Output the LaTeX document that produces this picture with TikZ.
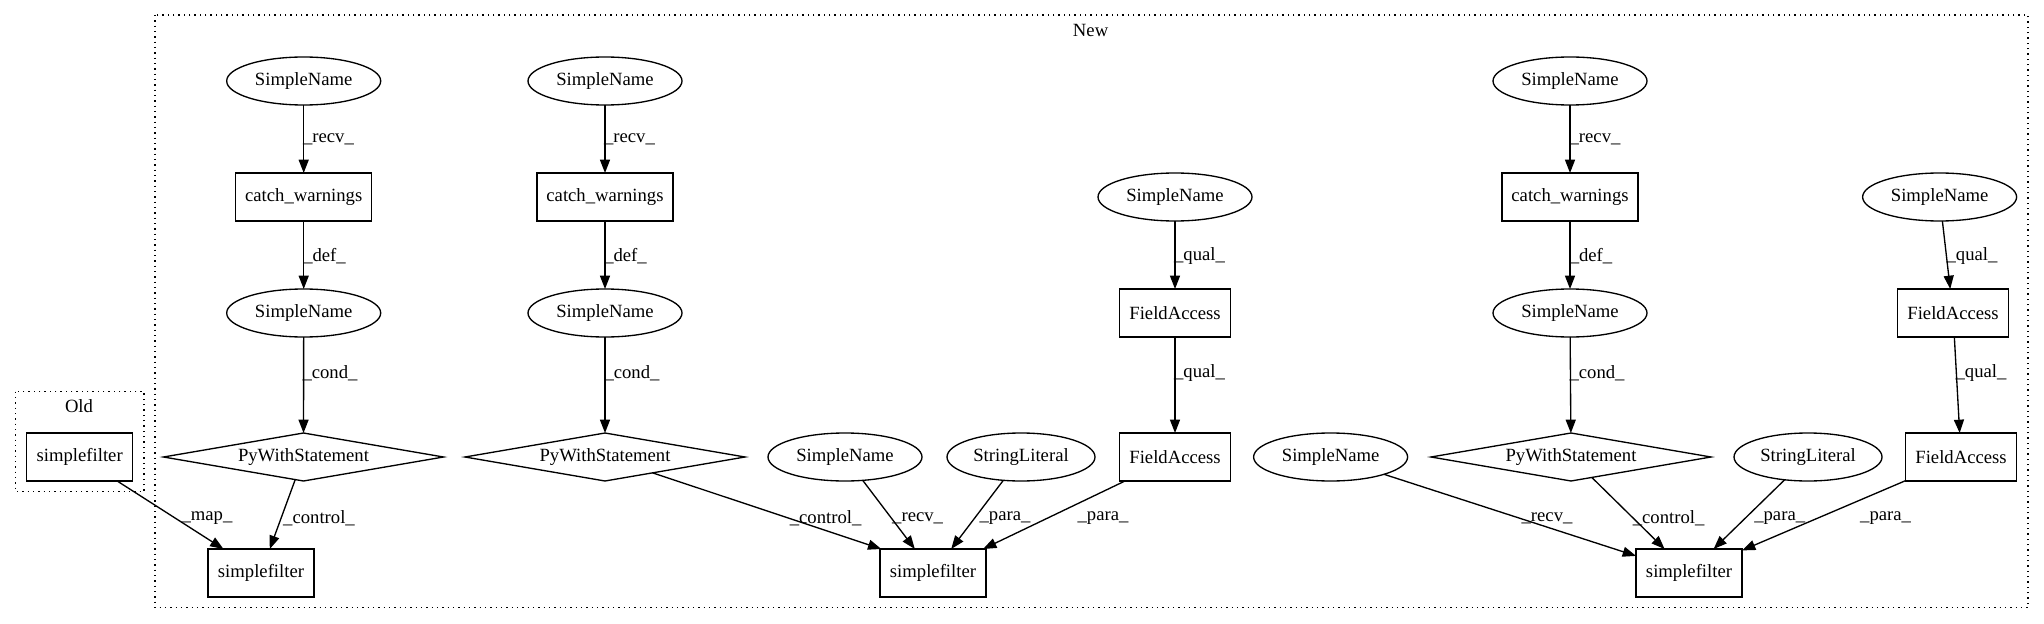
\documentclass[tikz,border=0pt]{standalone}
\usepackage{fontspec}
\setmainfont{Liberation Serif}
\usetikzlibrary{shapes.geometric,arrows.meta}
\begin{document}
\begin{tikzpicture}[x=0.75pt,y=-0.75pt,
  every node/.style={font=\fontsize{14}{16}\selectfont, inner sep=0pt, outer sep=0pt},
  ell/.style={draw, line width=1pt, ellipse, minimum width=115.5pt, minimum height=36pt},
  box/.style={draw, line width=1pt, rectangle, minimum height=36pt},
  dia/.style={draw, line width=1pt, diamond, shape aspect=5.8, minimum width=210pt, minimum height=36pt},
  edge/.style={draw, line width=1pt, -{Triangle[length=10pt,width=7.5pt]}},
  lbl/.style={},
  cluster/.style={draw, line width=1pt, dash pattern=on 1pt off 3pt}
]
\useasboundingbox (0,0) rectangle (2044,624);
% clusters
\draw[cluster] (15.7,391.7) rectangle (144,491.7);
\draw[cluster] (155,15) rectangle (2028,607.7);
\node (oldlbl) at (79,406) {Old};
\node (newlbl) at (1090.6,30) {New};
% Old
\node[box, minimum width=79.5pt] (sfO) at (79.7,457) {simplefilter};
% Group A
\node[ell] (snA1) at (303.7,81) {SimpleName};
\node[box, minimum width=102pt] (cwA) at (303.7,197) {catch\_warnings};
\node[ell] (snA2) at (303.7,313) {SimpleName};
\node[dia] (dA) at (303.5,457) {PyWithStatement};
\node[box, minimum width=79.5pt] (sfA) at (261,573) {simplefilter};
% Group B
\node[ell] (snB1) at (605,81) {SimpleName};
\node[box, minimum width=102pt] (cwB) at (605,197) {catch\_warnings};
\node[ell] (snB2) at (605,313) {SimpleName};
\node[dia] (dB) at (605,457) {PyWithStatement};
\node[ell] (snB3) at (845,457) {SimpleName};
\node[ell, minimum width=111pt] (slB) at (1021,457) {StringLiteral};
\node[ell] (snB4) at (1175,197) {SimpleName};
\node[box, minimum width=83.25pt] (faB1) at (1175,313) {FieldAccess};
\node[box, minimum width=83.25pt] (faB2) at (1175,457) {FieldAccess};
\node[box, minimum width=79.5pt] (sfB) at (933,573) {simplefilter};
% Group C
\node[ell] (snC1) at (1570,81) {SimpleName};
\node[box, minimum width=102pt] (cwC) at (1570,197) {catch\_warnings};
\node[ell] (snC2) at (1570,313) {SimpleName};
\node[dia] (dC) at (1571,457) {PyWithStatement};
\node[ell] (snC3) at (1330.6,457) {SimpleName};
\node[ell, minimum width=111pt] (slC) at (1808,457) {StringLiteral};
\node[ell] (snC4) at (1939.6,197) {SimpleName};
\node[box, minimum width=83.25pt] (faC1) at (1953,313) {FieldAccess};
\node[box, minimum width=83.25pt] (faC2) at (1961,457) {FieldAccess};
\node[box, minimum width=79.5pt] (sfC) at (1689,573) {simplefilter};
% edges A
\path[edge] (snA1) -- (cwA);
\path[edge] (cwA) -- (snA2);
\path[edge] (snA2) -- (dA);
\path[edge] (dA) -- (sfA);
\path[edge] (sfO) -- (sfA);
\node[lbl] (lA1) at (328.5,139) {\_recv\_};
\node[lbl] (lA2) at (324.5,256) {\_def\_};
\node[lbl] (lA3) at (330,373) {\_cond\_};
\node[lbl] (lA4) at (319,518) {\_control\_};
\node[lbl] (lA5) at (207,518) {\_map\_};
% edges B
\path[edge] (snB1) -- (cwB);
\path[edge] (cwB) -- (snB2);
\path[edge] (snB2) -- (dB);
\path[edge] (dB) -- ([xshift=1pt]sfB.north west);
\path[edge] (snB3) -- (sfB);
\path[edge] (slB) -- (sfB);
\path[edge] (faB2) -- (sfB);
\path[edge] (snB4) -- (faB1);
\path[edge] (faB1) -- (faB2);
\node[lbl] (lB1) at (629.5,139) {\_recv\_};
\node[lbl] (lB2) at (625.5,256) {\_def\_};
\node[lbl] (lB3) at (632,373) {\_cond\_};
\node[lbl] (lB4) at (825.6,518) {\_control\_};
\node[lbl] (lB5) at (917.6,518) {\_recv\_};
\node[lbl] (lB6) at (1005,518) {\_para\_};
\node[lbl] (lB7) at (1103,518) {\_para\_};
\node[lbl] (lB8) at (1199.5,256) {\_qual\_};
\node[lbl] (lB9) at (1199.5,373) {\_qual\_};
% edges C
\path[edge] (snC1) -- (cwC);
\path[edge] (cwC) -- (snC2);
\path[edge] (snC2) -- (dC);
\path[edge] (dC) -- (sfC);
\path[edge] (snC3) -- (sfC);
\path[edge] (slC) -- (sfC);
\path[edge] (faC2) -- (sfC);
\path[edge] (snC4) -- (faC1);
\path[edge] (faC1) -- (faC2);
\node[lbl] (lC1) at (1595,139) {\_recv\_};
\node[lbl] (lC2) at (1591,256) {\_def\_};
\node[lbl] (lC3) at (1597,373) {\_cond\_};
\node[lbl] (lC4) at (1668.6,518) {\_control\_};
\node[lbl] (lC5) at (1547,518) {\_recv\_};
\node[lbl] (lC6) at (1779.7,518) {\_para\_};
\node[lbl] (lC7) at (1885.6,518) {\_para\_};
\node[lbl] (lC8) at (1972,256) {\_qual\_};
\node[lbl] (lC9) at (1981,373) {\_qual\_};
\end{tikzpicture}
\end{document}
